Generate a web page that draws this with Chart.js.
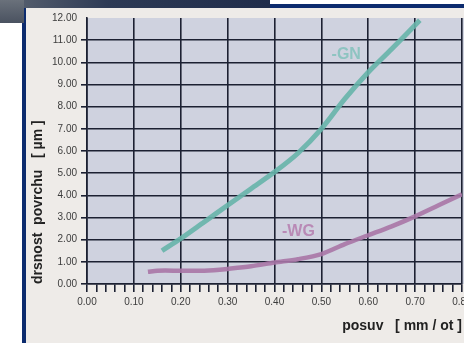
<!DOCTYPE html>
<html>
<head>
<meta charset="utf-8">
<script src="https://cdn.jsdelivr.net/npm/chart.js@4"></script>
<style>
    html, body { margin: 0; padding: 0; width: 464px; height: 343px; overflow: hidden; background: #ffffff; }
    #frame { position: absolute; left: 22px; top: 4px; width: 500px; height: 400px; background: #eeebe8; border-left: 4px solid #0c2b6e; border-top: 4px solid #0c2b6e; }
    #banner { position: absolute; left: 0; top: 0; width: 270px; height: 8px; background: linear-gradient(90deg, #5d6572, #2d3a55 40%, #1f2c4a); }
    #corner { position: absolute; left: 0; top: 0; width: 24px; height: 23px; background: linear-gradient(180deg, #6a717b, #4a5260); }
    #chart { position: absolute; left: 0; top: 0; }
</style>
</head>
<body>
<div id="frame"></div>
<div id="banner"></div>
<div id="corner"></div>
<canvas id="chart" width="480" height="343"></canvas>
<script>
// Data
const feedGN = [0.16, 0.20, 0.25, 0.30, 0.35, 0.40, 0.45, 0.50, 0.55, 0.60, 0.65, 0.71];
const roughGN = [1.5, 2.05, 2.8, 3.55, 4.3, 5.05, 5.9, 7.0, 8.35, 9.55, 10.6, 11.9];
const feedWG = [0.13, 0.15, 0.20, 0.25, 0.27, 0.30, 0.35, 0.40, 0.45, 0.50, 0.55, 0.60, 0.65, 0.70, 0.75, 0.80];
const roughWG = [0.55, 0.6, 0.6, 0.6, 0.62, 0.68, 0.8, 0.97, 1.12, 1.35, 1.8, 2.2, 2.6, 3.05, 3.55, 4.05];
const seriesNames = ['-GN', '-WG'];
const labelPos = [[0.553, 10.33], [0.451, 2.36]];

const gridDark = '#1c2032';

// Plot background + series labels
const plotDecor = {
    id: 'plotDecor',
    beforeDraw(chart) {
        const a = chart.chartArea;
        const ctx = chart.ctx;
        ctx.save();
        ctx.fillStyle = '#cfd2df';
        ctx.fillRect(a.left, a.top, a.right - a.left + 4, a.bottom - a.top);
        ctx.restore();
    },
    afterDatasetsDraw(chart) {
        const ctx = chart.ctx;
        const x = chart.scales.x, y = chart.scales.y;
        const colors = ['#8ec4c1', '#b98ab6'];
        ctx.save();
        ctx.font = 'bold 16px "Liberation Sans", Arial, sans-serif';
        ctx.textAlign = 'center';
        ctx.textBaseline = 'middle';
        seriesNames.forEach((name, i) => {
            ctx.fillStyle = colors[i];
            ctx.fillText(name, x.getPixelForValue(labelPos[i][0]), y.getPixelForValue(labelPos[i][1]));
        });
        ctx.restore();
    }
};

function isMajor(v) {
    return Math.abs(v * 10 - Math.round(v * 10)) < 1e-6;
}

new Chart(document.getElementById('chart'), {
    type: 'line',
    data: {
        datasets: [{
            label: seriesNames[0],
            data: feedGN.map((f, i) => ({ x: f, y: roughGN[i] })),
            borderColor: 'rgba(102, 180, 170, 0.9)',
            borderWidth: 5,
            pointRadius: 0,
            tension: 0.3
        }, {
            label: seriesNames[1],
            data: feedWG.map((f, i) => ({ x: f, y: roughWG[i] })),
            borderColor: 'rgba(168, 118, 166, 0.9)',
            borderWidth: 4.5,
            pointRadius: 0,
            tension: 0.3
        }]
    },
    options: {
        responsive: false,
        animation: false,
        devicePixelRatio: 1,
        layout: { padding: { left: 26, top: 18, right: 18, bottom: 8 } },
        plugins: { legend: { display: false }, tooltip: { enabled: false } },
        scales: {
            x: {
                type: 'linear',
                min: 0,
                max: 0.8,
                afterFit: s => { s.height = 51; },
                border: { color: gridDark, width: 1.6 },
                grid: {
                    color: c => isMajor(c.tick.value) ? gridDark : 'transparent',
                    tickColor: gridDark,
                    lineWidth: 1.6,
                    tickLength: 8
                },
                ticks: {
                    stepSize: 0.02,
                    autoSkip: false,
                    maxRotation: 0,
                    padding: 4,
                    color: '#3c3c3c',
                    font: { family: '"Liberation Sans", Arial, sans-serif', size: 10 },
                    callback: v => isMajor(v) ? v.toFixed(2) : ''
                },
                title: {
                    display: true,
                    text: 'posuv   [ mm / ot ]',
                    align: 'end',
                    color: '#222222',
                    font: { family: '"Liberation Sans", Arial, sans-serif', size: 14, weight: 'bold' },
                    padding: { top: 0, bottom: 0 }
                }
            },
            y: {
                min: 0,
                max: 12,
                afterFit: s => { s.width = 61; },
                border: { color: gridDark, width: 1.6 },
                grid: {
                    color: c => c.tick.value === 12 ? 'transparent' : gridDark,
                    tickColor: c => c.tick.value === 12 ? 'transparent' : gridDark,
                    lineWidth: 1.6,
                    tickLength: 6
                },
                ticks: {
                    stepSize: 1,
                    padding: 4,
                    color: '#3c3c3c',
                    font: { family: '"Liberation Sans", Arial, sans-serif', size: 10 },
                    callback: v => v.toFixed(2)
                },
                title: {
                    display: true,
                    text: 'drsnost  povrchu   [ µm ]',
                    align: 'start',
                    color: '#222222',
                    font: { family: '"Liberation Sans", Arial, sans-serif', size: 14, weight: 'bold' },
                    padding: { top: 4, bottom: 0 }
                }
            }
        }
    },
    plugins: [plotDecor]
});
</script>
</body>
</html>
